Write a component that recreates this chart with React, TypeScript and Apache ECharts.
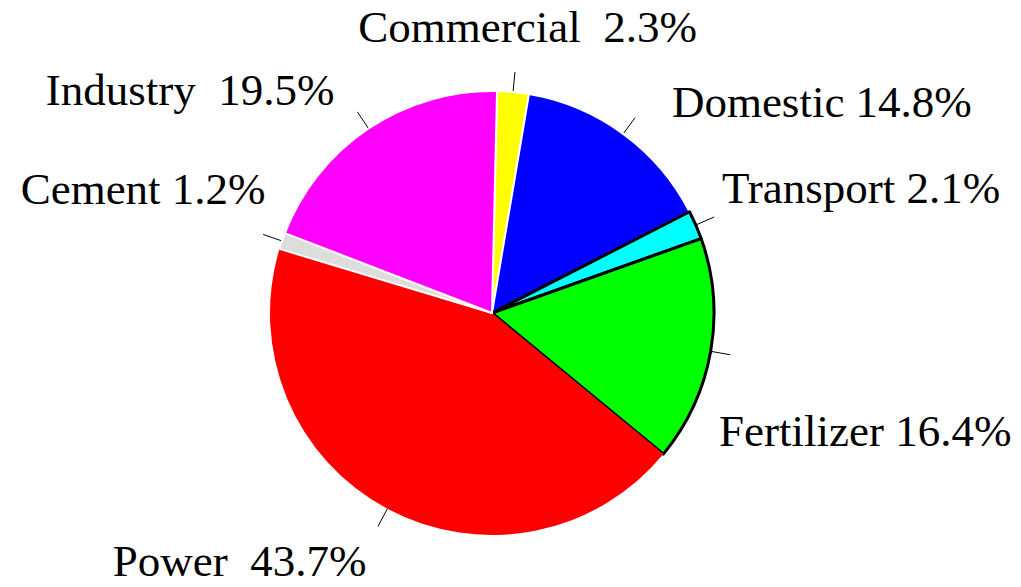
import React, { useEffect, useRef } from "react";
import * as echarts from "echarts";

// ---- data ----
const categories = ["Commercial", "Domestic", "Transport", "Fertilizer", "Power", "Cement", "Industry"];
const shares = [2.3, 14.8, 2.1, 16.4, 43.7, 1.2, 19.5];
// number of spaces between name and value in each label
const labelGaps = [2, 1, 1, 1, 2, 1, 2];

// ---- styles ----
const colors = ["#FFFF00", "#0000FF", "#00FFFF", "#00FF00", "#FF0000", "#DDDDDD", "#FF00FF"];
const borderColors = ["#FFFFFF", "#FFFFFF", "#000000", "#000000", "#FFFFFF", "#FFFFFF", "#FFFFFF"];
const borderWidths = [2, 2, 3, 3, 0, 2, 2];
// label anchor nudges (dx, dy) relative to leader-line end
const labelNudges: [number, number][] = [
  [12.6, -23.6],
  [36.9, 5.7],
  [7.8, -7.6],
  [-11.4, 75.8],
  [-11.5, 14],
  [2.5, -24.4],
  [-22.9, -1.4],
];

export default function App() {
  const ref = useRef<HTMLDivElement>(null);
  useEffect(() => {
    if (!ref.current) return;
    const chart = echarts.init(ref.current, undefined, { renderer: "svg" });
    const data = categories.map((name, i) => ({
      name,
      value: shares[i],
      itemStyle: {
        color: colors[i],
        borderColor: borderColors[i],
        borderWidth: borderWidths[i],
      },
    }));
    chart.setOption({
      animation: false,
      backgroundColor: "#FFFFFF",
      series: [
        {
          type: "pie",
          center: [492, 313],
          radius: 222,
          startAngle: 88.7,
          clockwise: true,
          avoidLabelOverlap: false,
          data,
          label: {
            show: true,
            position: "outside",
            fontFamily: "Liberation Serif",
            fontSize: 45,
            lineHeight: 42,
            color: "#000000",
            formatter: (p: any) =>
              p.name + " ".repeat(labelGaps[p.dataIndex]) + Number(p.value).toFixed(1) + "%",
          },
          labelLine: {
            show: true,
            length: 20,
            length2: 0,
            smooth: false,
            lineStyle: { color: "#000000", width: 1 },
          },
          labelLayout: (p: any) => {
            const pts = p.labelLinePoints;
            if (!pts) return {};
            const a = pts[0];
            const b = pts[1];
            const dx = b[0] - a[0];
            const dy = b[1] - a[1];
            const len = Math.hypot(dx, dy) || 1;
            const ux = dx / len;
            const uy = dy / len;
            const align = ux > 0.3 ? "left" : ux < -0.3 ? "right" : "center";
            const verticalAlign = uy < -0.3 ? "bottom" : uy > 0.3 ? "top" : "middle";
            const [nx, ny] = labelNudges[p.dataIndex];
            return {
              x: b[0] + nx,
              y: b[1] + ny,
              align,
              verticalAlign,
              labelLinePoints: [a, b],
            };
          },
          emphasis: { disabled: true },
        },
      ],
    });
    return () => chart.dispose();
  }, []);
  return (
    <div
      ref={ref}
      style={{ position: "absolute", left: 0, top: 0, width: 1021, height: 587 }}
    />
  );
}
